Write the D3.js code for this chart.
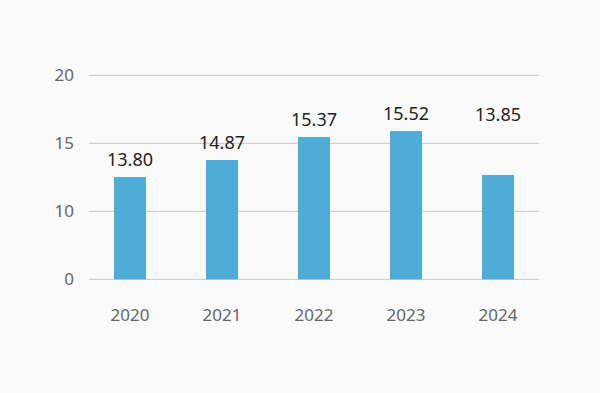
<!DOCTYPE html>
<html>
<head>
<meta charset="utf-8">
<script src="https://cdn.jsdelivr.net/npm/d3@7"></script>
<style>
  body { margin: 0; background: #fafafa; }
  svg { display: block; font-family: "Noto Sans", sans-serif; }
</style>
</head>
<body>
<script>
const years = ["2020", "2021", "2022", "2023", "2024"];
// bar heights as drawn (the axis is broken: 0-10, 10-15, 15-20 get equal space)
const barValues = [12.52, 13.77, 15.46, 15.9, 12.67];
// printed labels
const labels = ["13.80", "14.87", "15.37", "15.52", "13.85"];
// level each label sits above (last one floats above its bar)
const labelLevels = [12.52, 13.77, 15.46, 15.9, 15.86];
const yTicks = [0, 10, 15, 20];

const w = 600, h = 393;

const svg = d3.select("body")
  .append("svg")
  .attr("width", w)
  .attr("height", h);

const x = d3.scaleBand()
  .domain(years)
  .range([84, 544])
  .paddingInner(0.652)
  .paddingOuter(0.326);

const y = d3.scaleLinear()
  .domain(yTicks)
  .range([279.3, 211.3, 143.3, 75.3]);

// grid lines
svg.append("g")
  .selectAll("line")
  .data(yTicks)
  .enter()
  .append("line")
  .attr("x1", 89)
  .attr("x2", 539)
  .attr("y1", d => y(d))
  .attr("y2", d => y(d))
  .attr("stroke", "#c8c8c8")
  .attr("stroke-width", 1);

// y tick labels
svg.append("g")
  .selectAll("text")
  .data(yTicks)
  .enter()
  .append("text")
  .attr("x", 74)
  .attr("y", d => y(d))
  .attr("dy", "0.36em")
  .attr("text-anchor", "end")
  .attr("fill", "#666")
  .style("font-size", "17px")
  .text(d => d);

// bars
svg.append("g")
  .selectAll("rect")
  .data(years)
  .enter()
  .append("rect")
  .attr("x", d => x(d))
  .attr("width", x.bandwidth())
  .attr("y", (d, i) => y(barValues[i]))
  .attr("height", (d, i) => y(0) - y(barValues[i]))
  .attr("fill", "#4facd7");

// value labels
svg.append("g")
  .selectAll("text")
  .data(years)
  .enter()
  .append("text")
  .attr("x", d => x(d) + x.bandwidth() / 2)
  .attr("y", (d, i) => y(labelLevels[i]) - 11)
  .attr("text-anchor", "middle")
  .attr("fill", "#222")
  .style("font-size", "18px")
  .text((d, i) => labels[i]);

// x labels
svg.append("g")
  .selectAll("text")
  .data(years)
  .enter()
  .append("text")
  .attr("x", d => x(d) + x.bandwidth() / 2)
  .attr("y", 321)
  .attr("text-anchor", "middle")
  .attr("fill", "#666")
  .style("font-size", "17px")
  .text(d => d);
</script>
</body>
</html>
